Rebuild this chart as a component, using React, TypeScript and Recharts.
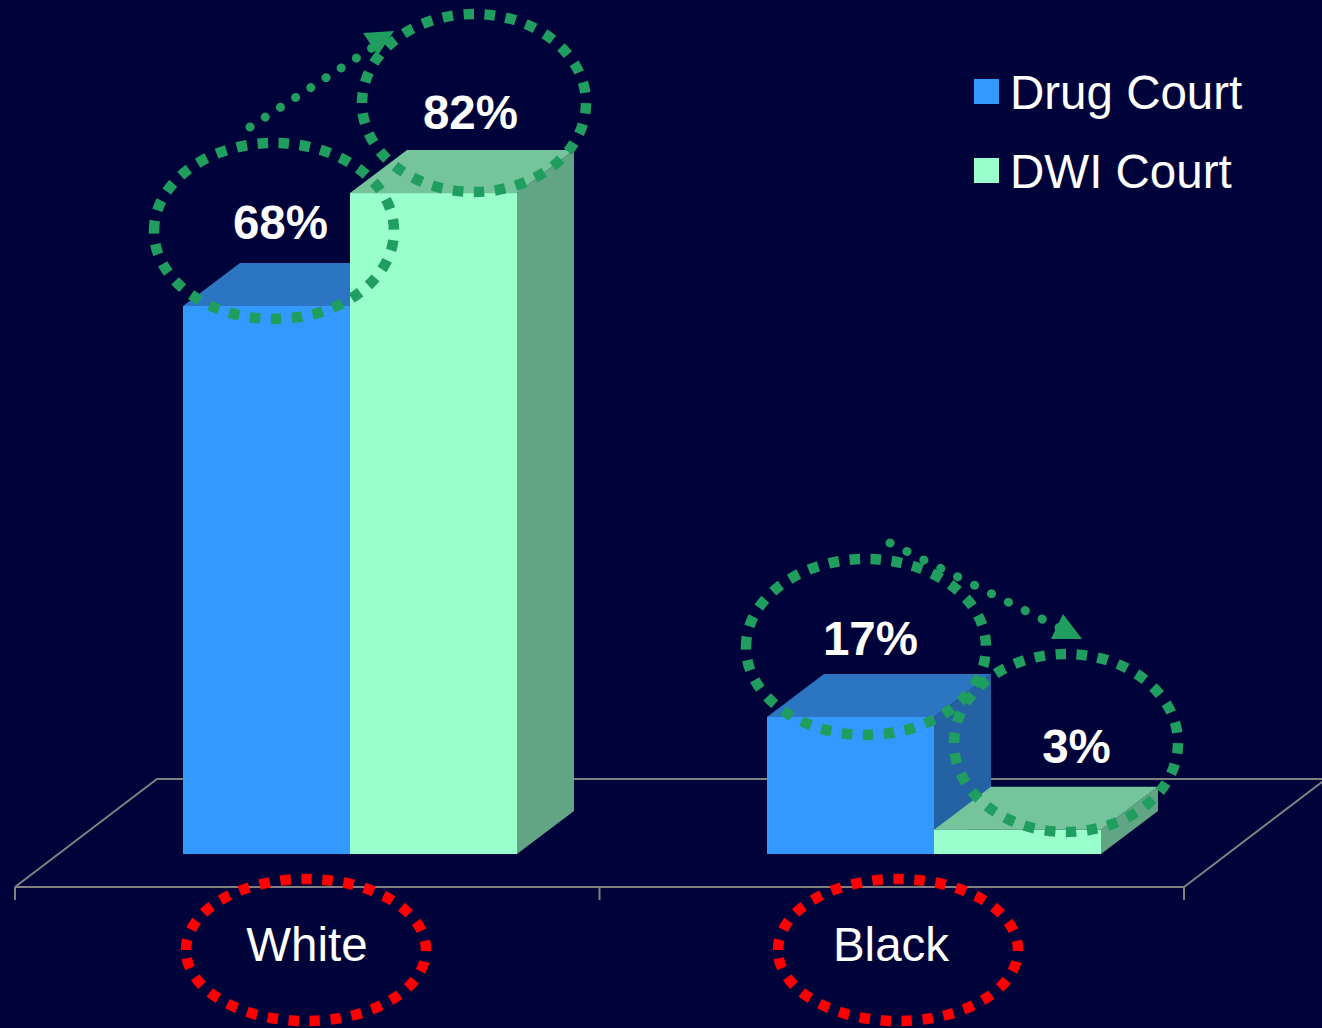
import { BarChart, Bar, XAxis, YAxis, Legend, LabelList, Customized } from "recharts";

const categories = ["White", "Black"];
const drugCourt = [68, 17];
const dwiCourt = [82, 3];

const chartData = categories.map((name, i) => ({
  name,
  drug: drugCourt[i],
  dwi: dwiCourt[i],
}));

const FONT = "'Liberation Sans', Arial, sans-serif";
const BG = "#000339";
const GREEN = "#1f9e60";
const RED = "#ff0000";
const GRID = "#808080";

// plot box, the floor in front of it comes from the depth values
const WIDTH = 1322;
const HEIGHT = 1028;
const LEFT = 58;
const RIGHT = 1226;
const TOP = 48;
const BOTTOM = 854;
const DEPTH_X = 57;
const DEPTH_Y = 43;

const colors = {
  drug: { front: "#3399ff", top: "#2b75c2", side: "#2462a4" },
  dwi: { front: "#99ffcc", top: "#75c49c", side: "#62a585" },
};

// hand placed percent labels, relative to the front top corner of each bar centre
const labelShift = {
  drug: [[14, -67], [20, -62]],
  dwi: [[37, -64], [59, -67]],
};

const greenRings = [
  { cx: 274, cy: 231, rx: 120, ry: 88 },
  { cx: 474, cy: 103, rx: 112, ry: 89 },
  { cx: 866, cy: 647, rx: 120, ry: 88 },
  { cx: 1066, cy: 743, rx: 112, ry: 89 },
];
const redRings = [
  { cx: 306, cy: 950, rx: 120, ry: 71 },
  { cx: 898, cy: 950, rx: 120, ry: 71 },
];

function Box3D(props: any) {
  const { x, y, width, height, palette } = props;
  const r = x + width;
  const b = y + height;
  return (
    <g>
      <path
        d={`M${r},${y} L${r + DEPTH_X},${y - DEPTH_Y} L${r + DEPTH_X},${b - DEPTH_Y} L${r},${b} Z`}
        fill={palette.side}
      />
      <path
        d={`M${x},${y} L${x + DEPTH_X},${y - DEPTH_Y} L${r + DEPTH_X},${y - DEPTH_Y} L${r},${y} Z`}
        fill={palette.top}
      />
      <rect x={x} y={y} width={width} height={height} fill={palette.front} />
    </g>
  );
}

function PercentLabel(props: any) {
  const { x, y, width, value, index, shifts } = props;
  const [dx, dy] = shifts[index];
  return (
    <text
      x={x + width / 2 + dx}
      y={y + dy}
      textAnchor="middle"
      fontFamily={FONT}
      fontWeight="bold"
      fontSize={47.5}
      fill="#ffffff"
    >
      {value}%
    </text>
  );
}

function CategoryTick(props: any) {
  const { x, payload } = props;
  return (
    <text
      x={x - 43}
      y={961}
      textAnchor="middle"
      fontFamily={FONT}
      fontSize={47.5}
      fill="#ffffff"
    >
      {payload.value}
    </text>
  );
}

function Floor() {
  const frontY = BOTTOM + 33;
  const backY = BOTTOM - 75;
  const frontL = LEFT - 43;
  const frontR = RIGHT - 42;
  const mid = (frontL + frontR) / 2;
  return (
    <g fill="none" stroke={GRID} strokeWidth={2}>
      <path d={`M${frontL},${frontY} L${frontL + 142},${backY} L${WIDTH},${backY}`} />
      <path d={`M${frontL},${frontY} L${frontR},${frontY} L${frontR + 142},${backY}`} />
      {[frontL, mid, frontR].map((tx) => (
        <line key={tx} x1={tx} x2={tx} y1={frontY} y2={frontY + 13} />
      ))}
    </g>
  );
}

// starts at the left end and runs clockwise, so the dash seam lands where it does in the slide
function ring(e: { cx: number; cy: number; rx: number; ry: number }) {
  const { cx, cy, rx, ry } = e;
  return `M${cx - rx},${cy} A${rx},${ry} 0 1 1 ${cx + rx},${cy} A${rx},${ry} 0 1 1 ${cx - rx},${cy}`;
}

// sits on top of the chart, the bars render in a higher layer than Customized
function Annotations() {
  return (
    <svg
      width={WIDTH}
      height={HEIGHT}
      style={{ position: "absolute", left: 0, top: 0, pointerEvents: "none" }}
    >
      {greenRings.map((e) => (
        <path key={e.cx} d={ring(e)} fill="none" stroke={GREEN} strokeWidth={10.5} strokeDasharray="10.5 10.6" />
      ))}
      {redRings.map((e) => (
        <path key={e.cx} d={ring(e)} fill="none" stroke={RED} strokeWidth={10.5} strokeDasharray="10.5 10.6" />
      ))}
      {/* dotted arrows between the circled values */}
      <line x1={250} y1={127} x2={372} y2={48} stroke={GREEN} strokeWidth={9} strokeLinecap="round" strokeDasharray="0.1 18" />
      <polygon points="363,33 394,31 378,55" fill={GREEN} />
      <line x1={890} y1={543} x2={1060} y2={628} stroke={GREEN} strokeWidth={9} strokeLinecap="round" strokeDasharray="0.1 18.8" />
      <polygon points="1063,614 1082,639 1051,639" fill={GREEN} />
    </svg>
  );
}

function LegendBox({ payload }: any) {
  const items = [...(payload || [])].sort((a: any) => (a.dataKey === "drug" ? -1 : 1));
  return (
    <svg width={340} height={170} style={{ display: "block", overflow: "visible" }}>
      {items.map((item: any, i: number) => (
        <g key={item.value}>
          <rect x={0} y={19 + 79 * i} width={25} height={25} fill={item.color} />
          <text x={36} y={49 + 79 * i} fontFamily={FONT} fontSize={47.5} fill="#ffffff">
            {item.value}
          </text>
        </g>
      ))}
    </svg>
  );
}

export default function App() {
  return (
    <div style={{ position: "absolute", left: 0, top: 0, width: WIDTH, height: HEIGHT, background: BG, overflow: "hidden" }}>
      <BarChart
        width={WIDTH}
        height={HEIGHT}
        data={chartData}
        margin={{ top: TOP, right: WIDTH - RIGHT, left: LEFT, bottom: HEIGHT - BOTTOM - 60 }}
        barCategoryGap={125}
        barGap={0}
      >
        <Customized component={Floor} />
        <XAxis
          dataKey="name"
          height={60}
          axisLine={false}
          tickLine={false}
          interval={0}
          tick={<CategoryTick />}
        />
        <YAxis hide domain={[0, 100]} />
        <Legend
          content={<LegendBox />}
          wrapperStyle={{ position: "absolute", left: 974, top: 60, width: 340, height: 0, bottom: "auto" }}
        />
        <Bar
          dataKey="drug"
          name="Drug Court"
          fill={colors.drug.front}
          isAnimationActive={false}
          shape={<Box3D palette={colors.drug} />}
        >
          <LabelList dataKey="drug" content={<PercentLabel shifts={labelShift.drug} />} />
        </Bar>
        <Bar
          dataKey="dwi"
          name="DWI Court"
          fill={colors.dwi.front}
          isAnimationActive={false}
          shape={<Box3D palette={colors.dwi} />}
        >
          <LabelList dataKey="dwi" content={<PercentLabel shifts={labelShift.dwi} />} />
        </Bar>
      </BarChart>
      <Annotations />
    </div>
  );
}
